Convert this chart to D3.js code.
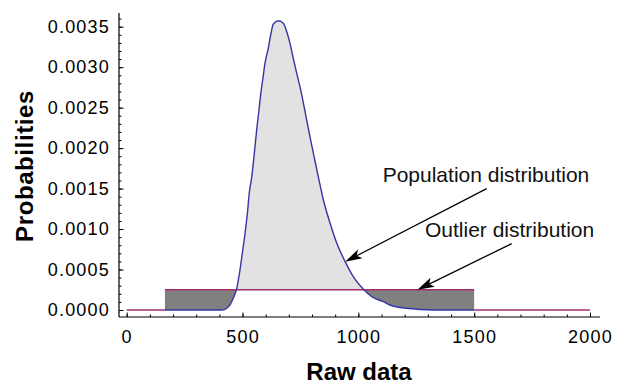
<!DOCTYPE html>
<html>
<head>
<meta charset="utf-8">
<script src="https://cdn.jsdelivr.net/npm/d3@7"></script>
<style>
  body { margin: 0; background: #fff; }
  svg { display: block; font-family: "Liberation Sans", Arial, sans-serif; }
</style>
</head>
<body>
<div id="chart"></div>
<script>
// population curve
const rawX = [165, 410, 424, 446, 460, 475, 489, 501, 511, 521, 529, 540, 551, 561, 571, 579, 587, 597, 611, 623, 633, 655,
  676, 691, 705, 719, 734, 748, 763, 777, 791, 806, 827, 849, 878, 907, 943, 978, 1022, 1058, 1108, 1137, 1209, 1324, 1500];
const popProb = [0, 0, 0.000009, 0.000062, 0.000145, 0.000268, 0.000494, 0.000741, 0.000948, 0.001195, 0.001442, 0.001647,
  0.001936, 0.002224, 0.002471, 0.002677, 0.002842, 0.003048, 0.003233, 0.003419, 0.003533, 0.003574,
  0.003542, 0.003438, 0.003295, 0.00311, 0.002924, 0.002759, 0.002554, 0.002347, 0.002141, 0.001936, 0.001647,
  0.001359, 0.001071, 0.000824, 0.000597, 0.000411, 0.000256, 0.000164, 0.000103, 0.000062, 0.000021, 0, 0];

// outlier (uniform) distribution
const outlierRange = [165, 1500];
const outlierLevel = 0.00025;
const fullRange = [0, 2000];

const xTicks = [0, 500, 1000, 1500, 2000];
const xMinor = d3.range(0, 2001, 100);
const yTicks = [0, 0.0005, 0.001, 0.0015, 0.002, 0.0025, 0.003, 0.0035];
const yMinor = d3.range(0, 37).map(i => i * 0.0001);

const annoLabels = ["Population distribution", "Outlier distribution"];
const annoText = [[1551, 0.001674], [1653, 0.000988]];
const annoTail = [[1554, 0.0015], [1662, 0.00082]];
const annoTip = [[943, 0.000597], [1255, 0.00025]];

const width = 639, height = 386;
const axisLeftX = 119, axisBottomY = 317, axisTopY = 13, axisRightX = 600;

const svg = d3.select("#chart").append("svg")
  .attr("width", width).attr("height", height);

const x = d3.scaleLinear().domain([0, 2000]).range([126.7, 590]);
const y = d3.scaleLinear().domain([0, 0.0035]).range([310, 26.7]);

const pts = rawX.map((d, i) => [d, popProb[i]]);

// clip areas above / below the outlier level
const defs = svg.append("defs");
defs.append("clipPath").attr("id", "above")
  .append("rect").attr("x", 0).attr("y", 0).attr("width", width).attr("height", y(outlierLevel));
defs.append("clipPath").attr("id", "below")
  .append("rect").attr("x", 0).attr("y", y(outlierLevel)).attr("width", width).attr("height", height);

const between = d3.area()
  .x(d => x(d[0]))
  .y0(y(outlierLevel))
  .y1(d => y(d[1]));

svg.append("path").datum(pts)
  .attr("d", between)
  .attr("fill", "#e2e2e2")
  .attr("clip-path", "url(#above)");

svg.append("path").datum(pts)
  .attr("d", between)
  .attr("fill", "#808080")
  .attr("clip-path", "url(#below)");

// outlier line
const outlierSegs = [
  [[fullRange[0], 0], [outlierRange[0], 0]],
  [[outlierRange[0], outlierLevel], [outlierRange[1], outlierLevel]],
  [[outlierRange[1], 0], [fullRange[1], 0]]
];
const line = d3.line().x(d => x(d[0])).y(d => y(d[1]));
svg.selectAll(".seg").data(outlierSegs).join("path")
  .attr("class", "seg")
  .attr("d", line)
  .attr("fill", "none")
  .attr("stroke", "#a3306c")
  .attr("stroke-width", 1.3);

// population curve
svg.append("path").datum(pts)
  .attr("d", line.curve(d3.curveMonotoneX))
  .attr("fill", "none")
  .attr("stroke", "#3535a3")
  .attr("stroke-width", 1.4);

// axes
const gy = svg.append("g").attr("transform", `translate(${axisLeftX},0)`);
gy.append("g").call(d3.axisLeft(y).tickValues(yMinor).tickSizeInner(-2.5).tickSizeOuter(0).tickFormat(""))
  .call(g => g.select(".domain").remove());
gy.append("g").call(d3.axisLeft(y).tickValues(yTicks).tickSizeInner(-4.5).tickSizeOuter(0)
    .tickPadding(9).tickFormat(d3.format(".4f")))
  .call(g => g.select(".domain").remove())
  .call(g => g.selectAll("text").attr("font-size", 18).attr("letter-spacing", 1.2)
    .attr("font-family", "Liberation Sans, Arial, sans-serif").attr("fill", "#000"));

const gx = svg.append("g").attr("transform", `translate(0,${axisBottomY})`);
gx.append("g").call(d3.axisBottom(x).tickValues(xMinor).tickSizeInner(-2.5).tickSizeOuter(0).tickFormat(""))
  .call(g => g.select(".domain").remove());
gx.append("g").call(d3.axisBottom(x).tickValues(xTicks).tickSizeInner(-4.5).tickSizeOuter(0)
    .tickPadding(13).tickFormat(d3.format("d")))
  .call(g => g.select(".domain").remove())
  .call(g => g.selectAll("text").attr("font-size", 18).attr("letter-spacing", 1.2)
    .attr("font-family", "Liberation Sans, Arial, sans-serif").attr("fill", "#000"));

svg.selectAll(".tick line").attr("stroke", "#000");

svg.append("line")
  .attr("x1", axisLeftX).attr("x2", axisLeftX)
  .attr("y1", axisTopY).attr("y2", axisBottomY)
  .attr("stroke", "#000").attr("stroke-width", 1.2);
svg.append("line")
  .attr("x1", axisLeftX).attr("x2", axisRightX)
  .attr("y1", axisBottomY).attr("y2", axisBottomY)
  .attr("stroke", "#000").attr("stroke-width", 1.2);

// axis titles
svg.append("text")
  .attr("transform", "translate(33,166) rotate(-90)")
  .attr("text-anchor", "middle")
  .attr("font-weight", "bold")
  .attr("font-size", 24)
  .attr("letter-spacing", 0.6)
  .text("Probabilities");

svg.append("text")
  .attr("x", 359).attr("y", 380)
  .attr("text-anchor", "middle")
  .attr("font-weight", "bold")
  .attr("font-size", 24)
  .text("Raw data");

// annotations
const anno = svg.append("g");
annoLabels.forEach((label, i) => {
  anno.append("text")
    .attr("x", x(annoText[i][0])).attr("y", y(annoText[i][1]))
    .attr("dy", "0.35em")
    .attr("text-anchor", "middle")
    .attr("font-size", 21)
    .attr("fill", "#111")
    .text(label);

  const x0 = x(annoTail[i][0]), y0 = y(annoTail[i][1]);
  const x1 = x(annoTip[i][0]), y1 = y(annoTip[i][1]);
  const ang = Math.atan2(y1 - y0, x1 - x0);
  const len = 17, half = 5, notch = 4;
  const bx = x1 - len * Math.cos(ang), by = y1 - len * Math.sin(ang);
  const nx = x1 - (len - notch) * Math.cos(ang), ny = y1 - (len - notch) * Math.sin(ang);
  const px = -Math.sin(ang) * half, py = Math.cos(ang) * half;

  anno.append("line")
    .attr("x1", x0).attr("y1", y0).attr("x2", nx).attr("y2", ny)
    .attr("stroke", "#000").attr("stroke-width", 1.3);
  anno.append("path")
    .attr("d", `M${x1},${y1}L${bx + px},${by + py}L${nx},${ny}L${bx - px},${by - py}Z`)
    .attr("fill", "#000");
});
</script>
</body>
</html>
